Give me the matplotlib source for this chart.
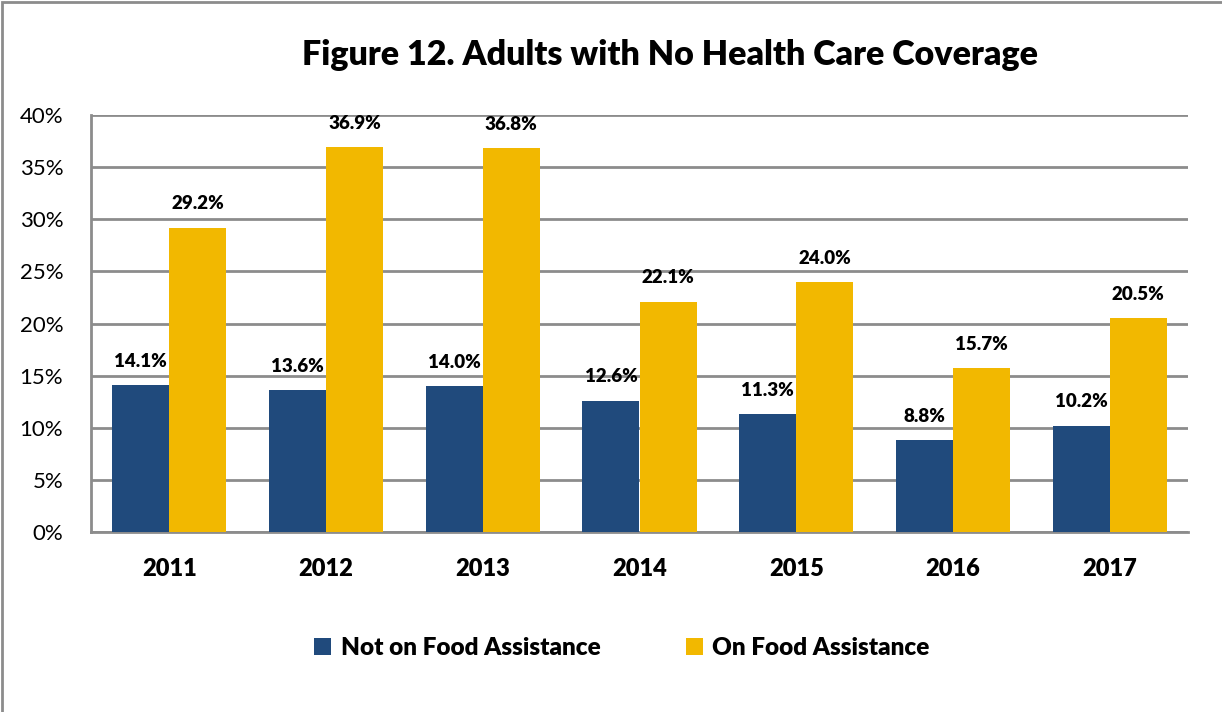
import numpy as np
import matplotlib.pyplot as plt
from matplotlib.patches import Rectangle
from matplotlib.ticker import MultipleLocator, FuncFormatter

years = ['2011', '2012', '2013', '2014', '2015', '2016', '2017']
not_on_food = [14.1, 13.6, 14.0, 12.6, 11.3, 8.8, 10.2]
on_food = [29.2, 36.9, 36.8, 22.1, 24.0, 15.7, 20.5]

navy = '#204A7C'
gold = '#F2B800'
grid_grey = '#8C8C8C'

plt.rcParams['font.family'] = ['Lato', 'DejaVu Sans']

fig = plt.figure(figsize=(12.22, 7.12), dpi=100)
ax = fig.add_axes([91 / 1222, 1 - 532 / 712, (1188 - 91) / 1222, (532 - 115) / 712])

x = np.arange(len(years))
w = 0.364
b1 = ax.bar(x - w / 2, not_on_food, w, color=navy, label='Not on Food Assistance', zorder=3)
b2 = ax.bar(x + w / 2, on_food, w, color=gold, label='On Food Assistance', zorder=3)

# value labels above each bar
for bars, vals in ((b1, not_on_food), (b2, on_food)):
    for r, v in zip(bars, vals):
        ax.annotate('%.1f%%' % v, (r.get_x() + r.get_width() / 2, v),
                    xytext=(0, 11), textcoords='offset points',
                    ha='center', va='bottom', fontsize=13.5, fontweight='heavy')

ax.set_xlim(-0.5, len(years) - 0.5)
ax.set_ylim(0, 40)
ax.yaxis.set_major_locator(MultipleLocator(5))
ax.yaxis.set_major_formatter(FuncFormatter(lambda v, p: '%d%%' % v))
ax.grid(axis='y', color=grid_grey, linewidth=2, zorder=0)
ax.set_xticks(x)
ax.set_xticklabels(years, fontsize=17, fontweight='heavy')
ax.tick_params(axis='y', labelsize=16, length=0, pad=20)
ax.tick_params(axis='x', length=0, pad=19)

for s in ('top', 'right'):
    ax.spines[s].set_visible(False)
for s in ('left', 'bottom'):
    ax.spines[s].set_color(grid_grey)
    ax.spines[s].set_linewidth(2)

fig.text(670 / 1222, 1 - 55 / 712, 'Figure 12. Adults with No Health Care Coverage',
         ha='center', va='center', fontsize=24.5, fontweight='heavy')

fig.legend(handles=[b1, b2], loc='center', bbox_to_anchor=(622 / 1222, 1 - 648 / 712),
           ncol=2, frameon=False, prop={'size': 17.5, 'weight': 'heavy'},
           handlelength=0.7, handleheight=0.7, handletextpad=0.4, columnspacing=3.5)

# outer chart border
fig.patches.append(Rectangle((0.0015, -0.01), 1.2, 1.0075, transform=fig.transFigure,
                             fill=False, edgecolor='#8C8C8C', linewidth=2))

fig.savefig('out.png', dpi=100)
